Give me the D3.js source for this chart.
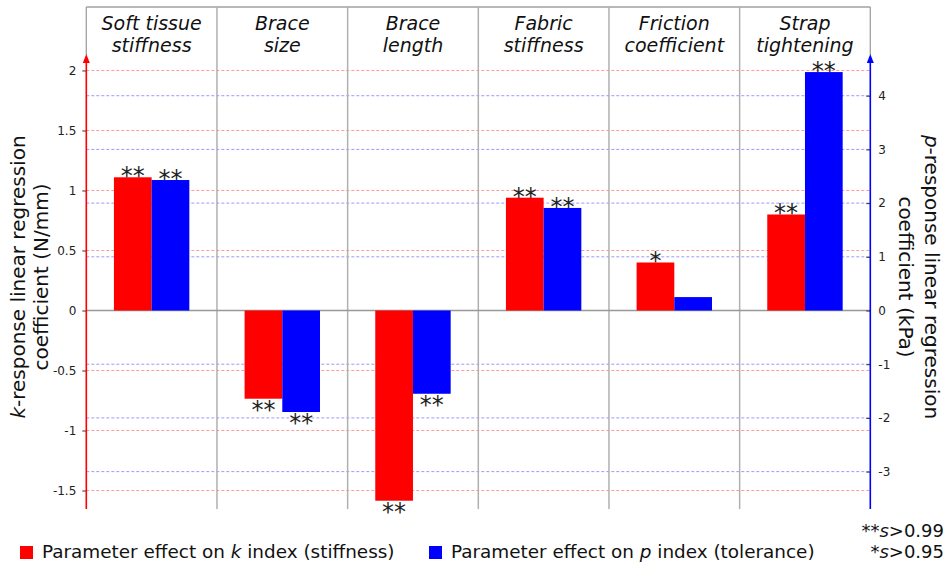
<!DOCTYPE html>
<html>
<head>
<meta charset="utf-8">
<script src="https://cdn.jsdelivr.net/npm/d3@7"></script>
<style>
  body { margin: 0; background: #fff; }
  svg { display: block; font-family: "DejaVu Sans", sans-serif; }
</style>
</head>
<body>
<svg id="chart" width="945" height="565"></svg>
<script>
// ---- data ----
const categories = ["Soft tissue stiffness", "Brace size", "Brace length", "Fabric stiffness", "Friction coefficient", "Strap tightening"];
const categoryLines = [["Soft tissue", "stiffness"], ["Brace", "size"], ["Brace", "length"], ["Fabric", "stiffness"], ["Friction", "coefficient"], ["Strap", "tightening"]];
const kValues = [1.11, -0.735, -1.585, 0.94, 0.40, 0.80];   // N/mm
const pValues = [2.43, -1.89, -1.55, 1.91, 0.25, 4.44];      // kPa
const kStars = ["**", "**", "**", "**", "*", "**"];
const pStars = ["**", "**", "**", "**", "", "**"];
const kTicks = [-1.5, -1, -0.5, 0, 0.5, 1, 1.5, 2];
const pTicks = [-3, -2, -1, 0, 1, 2, 3, 4];
const kDomain = [-1.654, 2.129];
const pDomain = [-3.696, 4.758];
const seriesNames = ["k", "p"];

(function () {
// ---- layout ----
const svg = d3.select("#chart");
const left = 86.3, right = 870.3, frameTop = 7, axisTop = 55, bottom = 509;
const red = "#ff0000", blue = "#0000ff";

const x = d3.scaleBand().domain(categories).range([left, right]).padding(0);
const xs = d3.scaleBand().domain(seriesNames).range([0, x.bandwidth()]).paddingInner(0).paddingOuter(0.733);
const yk = d3.scaleLinear().domain(kDomain).range([bottom, axisTop]);
const yp = d3.scaleLinear().domain(pDomain).range([bottom, axisTop]);

// gridlines
const grid = svg.append("g");
grid.selectAll("line.kg").data(kTicks.filter(d => d !== 0)).join("line")
  .attr("x1", left).attr("x2", right)
  .attr("y1", d => yk(d)).attr("y2", d => yk(d))
  .attr("stroke", "#ff9a9a").attr("stroke-width", 1).attr("stroke-dasharray", "3,2");
grid.selectAll("line.pg").data(pTicks.filter(d => d !== 0)).join("line")
  .attr("x1", left).attr("x2", right)
  .attr("y1", d => yp(d)).attr("y2", d => yp(d))
  .attr("stroke", "#9a9aff").attr("stroke-width", 1).attr("stroke-dasharray", "3,2");

// frame: top line + dividers
svg.append("line").attr("x1", left).attr("x2", right).attr("y1", frameTop).attr("y2", frameTop)
  .attr("stroke", "#a0a0a0").attr("stroke-width", 1.3);
svg.append("g").selectAll("line").data(categories.slice(1)).join("line")
  .attr("x1", d => x(d)).attr("x2", d => x(d))
  .attr("y1", frameTop).attr("y2", bottom)
  .attr("stroke", "#b0b0b0").attr("stroke-width", 1.5);
[left, right].forEach(xx => svg.append("line").attr("x1", xx).attr("x2", xx)
  .attr("y1", frameTop).attr("y2", axisTop).attr("stroke", "#a0a0a0").attr("stroke-width", 1.3));

// zero line
svg.append("line").attr("x1", left).attr("x2", right).attr("y1", yk(0)).attr("y2", yk(0))
  .attr("stroke", "#999").attr("stroke-width", 1.3);

// category labels
const catG = svg.append("g");
categories.forEach((c, i) => {
  const t = catG.append("text").attr("x", x(c) + x.bandwidth() / 2).attr("text-anchor", "middle")
    .attr("font-size", 19).attr("font-style", "italic").attr("fill", "#111");
  categoryLines[i].forEach((ln, j) => t.append("tspan").attr("x", x(c) + x.bandwidth() / 2).attr("y", 30 + j * 22).text(ln));
});

// stars (drawn behind bars)
const starG = svg.append("g").attr("font-size", 24).attr("fill", "#222").attr("text-anchor", "middle");
function starY(v, scale) {
  const yv = scale(v);
  return v >= 0 ? yv + 7 : yv + 19;
}
categories.forEach((c, i) => {
  starG.append("text").attr("x", x(c) + xs("k") + xs.bandwidth() / 2).attr("y", starY(kValues[i], yk)).text(kStars[i]);
  starG.append("text").attr("x", x(c) + xs("p") + xs.bandwidth() / 2).attr("y", starY(pValues[i], yp)).text(pStars[i]);
});

// bars
const barG = svg.append("g");
barG.selectAll("rect.k").data(kValues).join("rect")
  .attr("x", (d, i) => x(categories[i]) + xs("k"))
  .attr("width", xs.bandwidth())
  .attr("y", d => Math.min(yk(d), yk(0)))
  .attr("height", d => Math.abs(yk(d) - yk(0)))
  .attr("fill", red);
barG.selectAll("rect.p").data(pValues).join("rect")
  .attr("x", (d, i) => x(categories[i]) + xs("p"))
  .attr("width", xs.bandwidth())
  .attr("y", d => Math.min(yp(d), yp(0)))
  .attr("height", d => Math.abs(yp(d) - yp(0)))
  .attr("fill", blue);

// left axis
const axL = svg.append("g").attr("transform", `translate(${left},0)`)
  .call(d3.axisLeft(yk).tickValues(kTicks).tickSize(4).tickPadding(6).tickFormat(d => String(d)));
axL.select(".domain").remove();
axL.selectAll(".tick line").attr("stroke", "#333");
axL.selectAll(".tick text").attr("font-size", 12).attr("font-family", "DejaVu Sans").attr("fill", "#222");
svg.append("line").attr("x1", left).attr("x2", left).attr("y1", bottom).attr("y2", axisTop + 6)
  .attr("stroke", red).attr("stroke-width", 1.6);
svg.append("path").attr("d", `M${left - 3.5},${axisTop + 8} L${left},${axisTop - 1} L${left + 3.5},${axisTop + 8} Z`).attr("fill", red);

// right axis
const axR = svg.append("g").attr("transform", `translate(${right},0)`)
  .call(d3.axisRight(yp).tickValues(pTicks).tickSizeInner(-4).tickSizeOuter(0).tickPadding(8).tickFormat(d => String(d)));
axR.select(".domain").remove();
axR.selectAll(".tick line").attr("stroke", "#333");
axR.selectAll(".tick text").attr("font-size", 12).attr("font-family", "DejaVu Sans").attr("fill", "#222");
svg.append("line").attr("x1", right).attr("x2", right).attr("y1", bottom).attr("y2", axisTop + 6)
  .attr("stroke", blue).attr("stroke-width", 1.6);
svg.append("path").attr("d", `M${right - 3.5},${axisTop + 8} L${right},${axisTop - 1} L${right + 3.5},${axisTop + 8} Z`).attr("fill", blue);

// axis titles
const yc = 277;
const lt = svg.append("text").attr("transform", `translate(25,${yc}) rotate(-90)`)
  .attr("text-anchor", "middle").attr("font-size", 20).attr("fill", "#111");
lt.append("tspan").attr("x", 0).attr("y", 0).attr("font-style", "italic").text("k");
lt.append("tspan").text("-response linear regression");
lt.append("tspan").attr("x", 0).attr("y", 23).text("coefficient (N/mm)");

const rt = svg.append("text").attr("transform", `translate(925,${yc}) rotate(90)`)
  .attr("text-anchor", "middle").attr("font-size", 20).attr("fill", "#111");
rt.append("tspan").attr("x", 0).attr("y", 0).attr("font-style", "italic").text("p");
rt.append("tspan").text("-response linear regression");
rt.append("tspan").attr("x", 0).attr("y", 26).text("coefficient (kPa)");

// legend
const lg = svg.append("g").attr("font-size", 18.4).attr("fill", "#111");
lg.append("rect").attr("x", 20).attr("y", 546).attr("width", 13).attr("height", 13).attr("fill", red);
const l1 = lg.append("text").attr("x", 42).attr("y", 558);
l1.append("tspan").text("Parameter effect on ");
l1.append("tspan").attr("font-style", "italic").text("k");
l1.append("tspan").text(" index (stiffness)");
lg.append("rect").attr("x", 429).attr("y", 546).attr("width", 13).attr("height", 13).attr("fill", blue);
const l2 = lg.append("text").attr("x", 451).attr("y", 558);
l2.append("tspan").text("Parameter effect on ");
l2.append("tspan").attr("font-style", "italic").text("p");
l2.append("tspan").text(" index (tolerance)");

// significance note
const note = svg.append("g").attr("font-size", 18).attr("fill", "#111").attr("text-anchor", "end");
const n1 = note.append("text").attr("x", 944).attr("y", 537);
n1.append("tspan").text("**");
n1.append("tspan").attr("font-style", "italic").text("s");
n1.append("tspan").text(">0.99");
const n2 = note.append("text").attr("x", 944).attr("y", 558);
n2.append("tspan").text("*");
n2.append("tspan").attr("font-style", "italic").text("s");
n2.append("tspan").text(">0.95");
})();
</script>
</body>
</html>
